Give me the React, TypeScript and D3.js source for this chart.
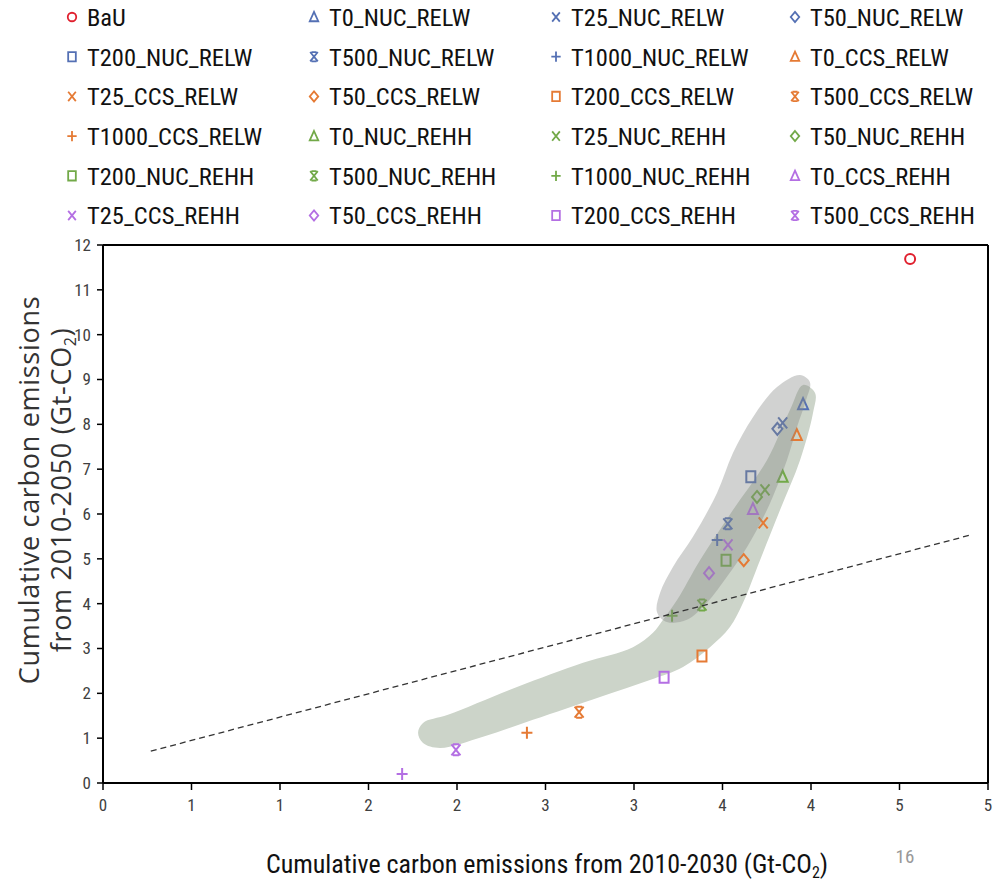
import React from "react";
import * as d3 from "d3";

// scenario names, in legend order (the last one is cut off from the legend in the source)
const seriesNames = [
  "BaU", "T0_NUC_RELW", "T25_NUC_RELW", "T50_NUC_RELW",
  "T200_NUC_RELW", "T500_NUC_RELW", "T1000_NUC_RELW", "T0_CCS_RELW",
  "T25_CCS_RELW", "T50_CCS_RELW", "T200_CCS_RELW", "T500_CCS_RELW",
  "T1000_CCS_RELW", "T0_NUC_REHH", "T25_NUC_REHH", "T50_NUC_REHH",
  "T200_NUC_REHH", "T500_NUC_REHH", "T1000_NUC_REHH", "T0_CCS_REHH",
  "T25_CCS_REHH", "T50_CCS_REHH", "T200_CCS_REHH", "T500_CCS_REHH",
  "T1000_CCS_REHH",
];
const legendCount = 24;

// cumulative emissions 2010-2030 (x) and 2010-2050 (y)
const emissions2030 = [
  4.56, 3.955, 3.84, 3.81,
  3.66, 3.53, 3.47, 3.92,
  3.73, 3.62, 3.384, 2.69,
  2.395, 3.84, 3.74, 3.695,
  3.52, 3.384, 3.215, 3.672,
  3.531, 3.424, 3.17, 1.994,
  1.69,
];
const emissions2050 = [
  11.69, 8.45, 8.03, 7.9,
  6.83, 5.78, 5.42, 7.76,
  5.8, 4.97, 2.83, 1.58,
  1.12, 6.83, 6.54, 6.38,
  4.97, 3.97, 3.73, 6.11,
  5.31, 4.68, 2.36, 0.74,
  0.2,
];

const groupColors = {
  bau: "#e0202e",
  NUC_RELW: "#5470b4",
  CCS_RELW: "#e57a34",
  NUC_REHH: "#72a948",
  CCS_REHH: "#b46fe3",
};

const xTickValues = [0, 0.5, 1, 1.5, 2, 2.5, 3, 3.5, 4, 4.5, 5];
const xTickLabels = ["0", "1", "1", "2", "2", "3", "3", "4", "4", "5", "5"];
const yTickValues = [0, 1, 2, 3, 4, 5, 6, 7, 8, 9, 10, 11, 12];

// reference line endpoints
const refLineX = [0.27, 4.9];
const refLineY = [0.71, 5.53];

// hand-drawn shaded zones (outline points in data units)
const zoneWideX = [3.955, 4.023, 4.011, 3.938, 3.825, 3.712, 3.616, 3.542, 3.429, 3.277, 3.09, 2.808, 2.429, 2.147, 1.904, 1.808, 1.78, 1.808, 1.949, 2.339, 2.712, 2.994, 3.107, 3.164, 3.243, 3.373, 3.559, 3.751, 3.881];
const zoneWideY = [8.88, 8.7, 8.25, 7.2, 6.09, 4.97, 4.02, 3.48, 3.03, 2.59, 2.3, 1.92, 1.41, 1.03, 0.78, 0.89, 1.12, 1.34, 1.52, 2.14, 2.68, 3.03, 3.35, 3.64, 4.08, 4.97, 6.09, 7.2, 8.32];
const zoneUpperX = [3.938, 3.994, 3.972, 3.921, 3.864, 3.751, 3.638, 3.525, 3.412, 3.299, 3.186, 3.13, 3.147, 3.22, 3.333, 3.469, 3.559, 3.672, 3.808];
const zoneUpperY = [9.1, 8.94, 8.54, 7.94, 7.2, 6.09, 5.26, 4.6, 4.02, 3.64, 3.59, 3.81, 4.24, 4.82, 5.49, 6.47, 7.36, 8.16, 8.83];

function seriesColor(name) {
  if (name === "BaU") return groupColors.bau;
  const key = name.split("_").slice(1).join("_");
  return groupColors[key];
}

function seriesShape(name) {
  if (name === "BaU") return "circle";
  const t = name.split("_")[0];
  return { T0: "triangle", T25: "x", T50: "diamond", T200: "square", T500: "star", T1000: "plus" }[t];
}

function markerPath(shape, s = 1) {
  const p = d3.path();
  const k = (v) => v * s;
  switch (shape) {
    case "circle":
      p.ellipse
        ? p.ellipse(0, 0, k(4.5), k(5.5), 0, 0, Math.PI * 2)
        : p.arc(0, 0, k(5), 0, Math.PI * 2);
      break;
    case "triangle":
      p.moveTo(0, k(-6));
      p.lineTo(k(5), k(5));
      p.lineTo(k(-5), k(5));
      p.closePath();
      break;
    case "diamond":
      p.moveTo(0, k(-6));
      p.lineTo(k(5), 0);
      p.lineTo(0, k(6));
      p.lineTo(k(-5), 0);
      p.closePath();
      break;
    case "square":
      p.rect(k(-4.5), k(-5.5), k(9), k(11));
      break;
    case "x":
      p.moveTo(k(-4.5), k(-5.5));
      p.lineTo(k(4.5), k(5.5));
      p.moveTo(k(-4.5), k(5.5));
      p.lineTo(k(4.5), k(-5.5));
      break;
    case "plus":
      p.moveTo(k(-5.5), 0);
      p.lineTo(k(5.5), 0);
      p.moveTo(0, k(-6));
      p.lineTo(0, k(6));
      break;
    case "star":
      p.moveTo(k(-4.5), k(-5.5));
      p.lineTo(k(4.5), k(5.5));
      p.moveTo(k(-4.5), k(5.5));
      p.lineTo(k(4.5), k(-5.5));
      p.moveTo(k(-3), k(-5.5));
      p.lineTo(k(3), k(-5.5));
      p.moveTo(k(-3), k(5.5));
      p.lineTo(k(3), k(5.5));
      break;
  }
  return p.toString();
}

export default function App() {
  const width = 1000;
  const height = 883;
  const margin = { top: 245, right: 12, bottom: 100, left: 103 };

  const x = d3.scaleLinear().domain([0, 5]).range([margin.left, width - margin.right]);
  const y = d3.scaleLinear().domain([0, 12]).range([height - margin.bottom, margin.top]);

  const blob = d3
    .line()
    .x((d) => x(d[0]))
    .y((d) => y(d[1]))
    .curve(d3.curveCatmullRomClosed.alpha(0.5));

  const wide = zoneWideX.map((v, i) => [v, zoneWideY[i]]);
  const upper = zoneUpperX.map((v, i) => [v, zoneUpperY[i]]);

  const x0 = x.range()[0];
  const x1 = x.range()[1];
  const y0 = y.range()[0];
  const y1 = y.range()[1];

  const font = "'Liberation Sans Narrow', 'Arial Narrow', 'Roboto Condensed', Lato, sans-serif";
  const titleFont = "'Open Sans', Lato, sans-serif";

  return (
    <svg
      width={width}
      height={height}
      style={{ position: "absolute", left: 0, top: 0, background: "#fff" }}
      fontFamily={font}
    >
      {/* legend */}
      {seriesNames.slice(0, legendCount).map((name, i) => {
        const col = i % 4;
        const row = Math.floor(i / 4);
        const lx = [72, 314, 556, 795][col];
        const ly = 17 + row * 39.7;
        return (
          <g key={name} transform={`translate(${lx},${ly})`}>
            <path
              d={markerPath(seriesShape(name), 0.85)}
              fill="none"
              stroke={seriesColor(name)}
              strokeWidth={1.8}
            />
            <text x={15} y={0} dy="0.36em" fontSize={24.5} fill="#111">
              {name}
            </text>
          </g>
        );
      })}

      {/* shaded zones, markers, overlay */}
      <path d={blob(wide)} fill="#ccd4c9" />
      {seriesNames.map((name, i) => (
        <path
          key={name}
          transform={`translate(${x(emissions2030[i])},${y(emissions2050[i])})`}
          d={markerPath(seriesShape(name))}
          fill="none"
          stroke={seriesColor(name)}
          strokeWidth={2}
        />
      ))}
      <path d={blob(upper)} fill="#868a86" fillOpacity={0.38} />

      <line
        x1={x(refLineX[0])}
        y1={y(refLineY[0])}
        x2={x(refLineX[1])}
        y2={y(refLineY[1])}
        stroke="#333"
        strokeWidth={1.3}
        strokeDasharray="6,4"
      />

      {/* frame + axes */}
      <line x1={x0} x2={x1} y1={y1} y2={y1} stroke="#000" strokeWidth={2} />
      <line x1={x1} x2={x1} y1={y1} y2={y0} stroke="#000" strokeWidth={2} />
      <line x1={x0} x2={x1} y1={y0} y2={y0} stroke="#000" strokeWidth={2} />
      <line x1={x0} x2={x0} y1={y1} y2={y0} stroke="#000" strokeWidth={2} />

      {xTickValues.map((v, i) => (
        <g key={"x" + v} transform={`translate(${x(v)},${y0})`}>
          <line y1={0} y2={7} stroke="#000" strokeWidth={1.5} />
          <text y={22} dy="0.35em" textAnchor="middle" fontSize={17} fill="#404040">
            {xTickLabels[i]}
          </text>
        </g>
      ))}
      {yTickValues.map((v) => (
        <g key={"y" + v} transform={`translate(${x0},${y(v)})`}>
          <line x1={0} x2={-6} stroke="#000" strokeWidth={1.5} />
          <text x={-12} dy="0.35em" textAnchor="end" fontSize={17} fill="#404040">
            {v}
          </text>
        </g>
      ))}

      {/* axis titles */}
      <g
        transform="translate(30,490) rotate(-90)"
        fontSize={27}
        letterSpacing={0.7}
        fontFamily={titleFont}
        fill="#333"
        textAnchor="middle"
      >
        <text y={0} dy="0.35em">Cumulative carbon emissions</text>
        <text y={32} dy="0.35em">
          from 2010-2050 (Gt-CO<tspan fontSize={16} dy="5">2</tspan>
          <tspan dy="-5">)</tspan>
        </text>
      </g>
      <text x={547} y={864} dy="0.35em" textAnchor="middle" fontSize={26} fill="#111">
        Cumulative carbon emissions from 2010-2030 (Gt-CO<tspan fontSize={16} dy="5">2</tspan>
        <tspan dy="-5">)</tspan>
      </text>
      <text x={905} y={856} dy="0.35em" textAnchor="middle" fontSize={19} fill="#999">
        16
      </text>
    </svg>
  );
}
